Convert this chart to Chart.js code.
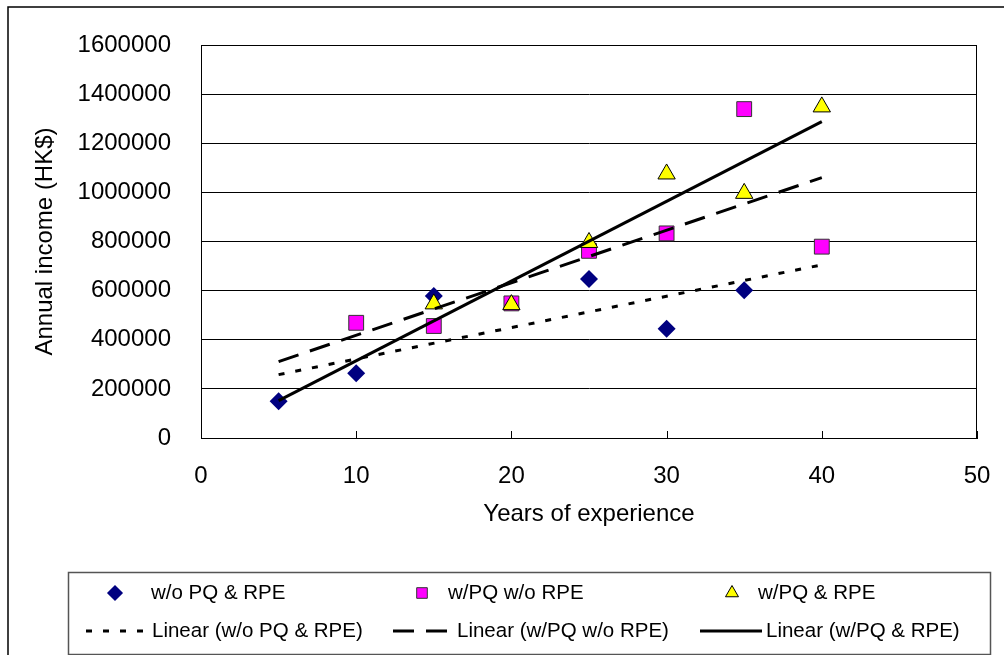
<!DOCTYPE html>
<html>
<head>
<meta charset="utf-8">
<script src="https://cdn.jsdelivr.net/npm/chart.js@4/dist/chart.umd.min.js"></script>
<style>
  body { margin: 0; background: #fff; }
  canvas { display: block; }
</style>
</head>
<body>
<canvas id="myChart" width="1004" height="655"></canvas>
<script>
const ctx = document.getElementById("myChart");

// data
const years1 = [5, 10, 15, 25, 30, 35];
const income1 = [150000, 264000, 578000, 647000, 445000, 602000];
const years2 = [10, 15, 20, 25, 30, 35, 40];
const income2 = [469000, 456000, 548000, 762000, 833000, 1339000, 779000];
const years3 = [15, 20, 25, 30, 35, 40];
const income3 = [546000, 543000, 796000, 1075000, 996000, 1348000];

// trendline end points
const trendYears = [5, 40];
const trend1 = [258000, 705000];
const trend2 = [311000, 1060000];
const trend3 = [152000, 1288000];

const seriesNames = ["w/o PQ & RPE", "w/PQ w/o RPE", "w/PQ & RPE"];
const trendNames = ["Linear (w/o PQ & RPE)", "Linear (w/PQ w/o RPE)", "Linear (w/PQ & RPE)"];

function pts(xs, ys) {
  return xs.map((x, i) => ({ x: x, y: ys[i] }));
}

Chart.defaults.font.family = "'Liberation Sans', Arial, sans-serif";
Chart.defaults.color = "#000";

const dotted = [6, 11];
const dashed = [21, 12];

// draws a marker (falls back to own shapes if helpers missing)
function marker(c, style, r, x, y) {
  if (Chart.helpers && Chart.helpers.drawPoint) {
    Chart.helpers.drawPoint(c, { pointStyle: style, radius: r, rotation: 0, borderWidth: c.lineWidth }, x, y);
    return;
  }
  c.beginPath();
  if (style === "rectRot") {
    c.moveTo(x, y - r); c.lineTo(x + r, y); c.lineTo(x, y + r); c.lineTo(x - r, y);
  } else if (style === "rect") {
    const s = Math.SQRT1_2 * r;
    c.rect(x - s, y - s, 2 * s, 2 * s);
  } else {
    c.moveTo(x, y - r); c.lineTo(x + r * 0.866, y + r / 2); c.lineTo(x - r * 0.866, y + r / 2);
  }
  c.closePath();
  c.fill();
  if (c.lineWidth > 0) c.stroke();
}

const framePlugin = {
  id: "frame",
  beforeDatasetsDraw(chart) {
    const c = chart.ctx;
    const a = chart.chartArea;
    const xs = chart.scales.x;
    c.save();
    c.strokeStyle = "#000";
    c.lineWidth = 1;
    c.strokeRect(Math.round(a.left) + 0.5, Math.round(a.top) + 0.5,
      Math.round(a.right - a.left) - 1, Math.round(a.bottom - a.top));
    // inside tick marks on the x axis
    c.beginPath();
    xs.ticks.forEach(t => {
      const px = Math.round(xs.getPixelForValue(t.value)) + 0.5;
      c.moveTo(px, a.bottom);
      c.lineTo(px, a.bottom - 7);
    });
    c.stroke();
    c.restore();
  },
  afterDraw(chart) {
    const c = chart.ctx;
    c.save();
    // outer chart border
    c.strokeStyle = "#000";
    c.lineWidth = 1.5;
    c.strokeRect(8, 7, 1010, 700);
    // legend box
    c.strokeStyle = "#555";
    c.lineWidth = 1.5;
    c.strokeRect(68.5, 572.5, 922, 82);

    c.font = "20.5px 'Liberation Sans', Arial, sans-serif";
    c.textBaseline = "middle";
    c.textAlign = "left";

    const mx = [115, 422, 732];
    const tx1 = [151, 448, 758];
    const lx = [86, 393, 700];
    const tx2 = [152, 457, 766];
    const ds = chart.data.datasets;
    for (let i = 0; i < 3; i++) {
      const d = ds[i];
      c.fillStyle = d.backgroundColor;
      c.strokeStyle = d.borderColor;
      c.lineWidth = d.borderWidth;
      marker(c, d.pointStyle, d.legendRadius, mx[i], 593);
      c.fillStyle = "#000";
      c.fillText(d.label, tx1[i], 593);

      const t = ds[i + 3];
      c.strokeStyle = "#000";
      c.lineWidth = 3;
      c.setLineDash(t.borderDash || []);
      c.beginPath();
      c.moveTo(lx[i], 631);
      c.lineTo(lx[i] + 62, 631);
      c.stroke();
      c.setLineDash([]);
      c.fillText(t.label, tx2[i], 631);
    }
    c.restore();
  }
};

const chart = new Chart(ctx, {
  type: "scatter",
  data: {
    datasets: [
      {
        label: seriesNames[0],
        data: pts(years1, income1),
        pointStyle: "rectRot",
        pointRadius: 9,
        legendRadius: 7,
        backgroundColor: "#000080",
        borderColor: "#000080",
        borderWidth: 0,
        order: 6,
      },
      {
        label: seriesNames[1],
        data: pts(years2, income2),
        pointStyle: "rect",
        pointRadius: 10.5,
        legendRadius: 7.5,
        backgroundColor: "#FF00FF",
        borderColor: "#333",
        borderWidth: 1,
        order: 5,
      },
      {
        label: seriesNames[2],
        data: pts(years3, income3),
        pointStyle: "triangle",
        pointRadius: 10,
        legendRadius: 7.5,
        backgroundColor: "#FFFF00",
        borderColor: "#000",
        borderWidth: 1,
        order: 4,
      },
      {
        label: trendNames[0],
        data: pts(trendYears, trend1),
        showLine: true,
        pointRadius: 0,
        borderColor: "#000",
        borderWidth: 3,
        borderDash: dotted,
        order: 3,
      },
      {
        label: trendNames[1],
        data: pts(trendYears, trend2),
        showLine: true,
        pointRadius: 0,
        borderColor: "#000",
        borderWidth: 3,
        borderDash: dashed,
        order: 2,
      },
      {
        label: trendNames[2],
        data: pts(trendYears, trend3),
        showLine: true,
        pointRadius: 0,
        borderColor: "#000",
        borderWidth: 3,
        order: 1,
      },
    ],
  },
  options: {
    responsive: false,
    animation: false,
    layout: {
      padding: { left: 8, top: 45, right: 27, bottom: 117 },
    },
    plugins: {
      legend: { display: false },
      tooltip: { enabled: false },
    },
    scales: {
      x: {
        type: "linear",
        min: 0,
        max: 50,
        afterFit: (s) => { s.height = 100; s.paddingRight = 0; s.paddingLeft = 0; },
        ticks: { stepSize: 10, font: { size: 24 }, padding: 24, color: "#000" },
        grid: { display: false, drawTicks: false },
        border: { display: true, color: "#000", width: 1 },
        title: {
          display: true,
          text: "Years of experience",
          font: { size: 24 },
          color: "#000",
          padding: { top: 0, bottom: 9 },
        },
      },
      y: {
        type: "linear",
        min: 0,
        max: 1600000,
        afterFit: (s) => { s.width = 193; },
        ticks: {
          stepSize: 200000,
          font: { size: 24 },
          padding: 30,
          color: "#000",
          callback: (v) => String(v),
        },
        grid: { color: "#000", lineWidth: 1, drawTicks: false },
        border: { display: true, color: "#000", width: 1 },
        title: {
          display: true,
          text: "Annual income (HK$)",
          font: { size: 24 },
          color: "#000",
          padding: { top: 22.6, bottom: 0 },
        },
      },
    },
  },
  plugins: [framePlugin],
});
</script>
</body>
</html>
